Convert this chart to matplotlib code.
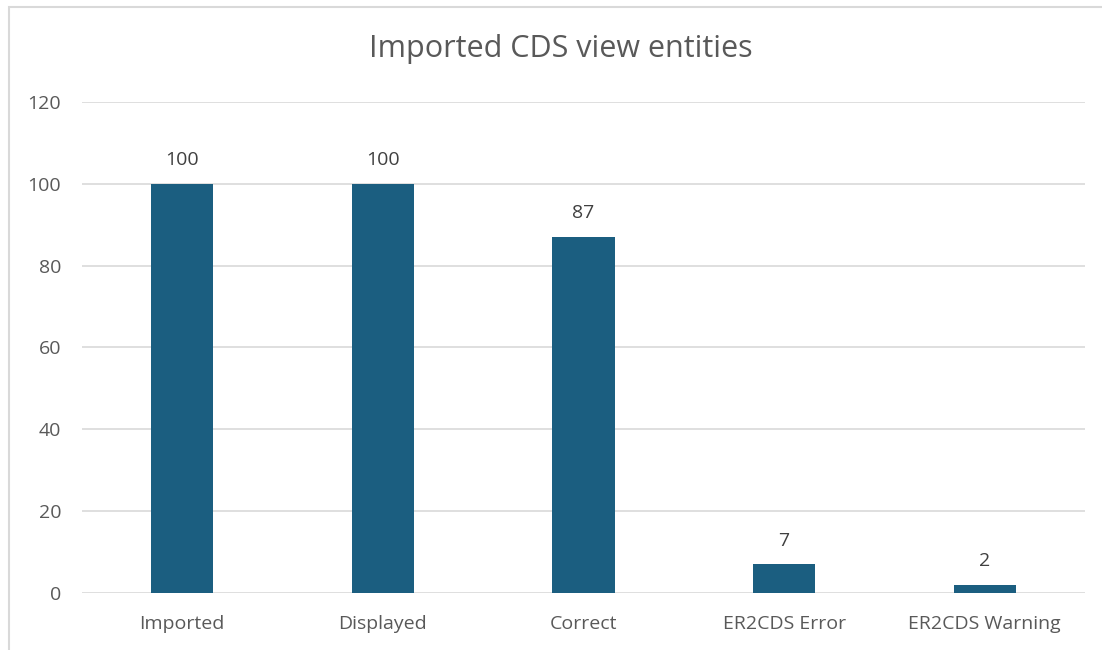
import matplotlib
matplotlib.use("Agg")
import matplotlib.pyplot as plt
from matplotlib.patches import Rectangle

categories = ["Imported", "Displayed", "Correct", "ER2CDS Error", "ER2CDS Warning"]
values = [100, 100, 87, 7, 2]
yticks = [0, 20, 40, 60, 80, 100, 120]
title = "Imported CDS view entities"

plt.rcParams['font.family'] = ['Open Sans', 'DejaVu Sans']

W, H = 1102, 650
fig = plt.figure(figsize=(W/100, H/100), dpi=100)
ax = fig.add_axes([82/W, 1-593/H, (1085-82)/W, (593-102)/H])

x = list(range(len(categories)))
bars = ax.bar(x, values, width=0.31, color='#1B5E80', zorder=3)
for xi, v in zip(x, values):
    ax.annotate(str(v), (xi, v), xytext=(0, 10.5), textcoords='offset points',
                ha='center', va='bottom', fontsize=14, color='#404040')

ax.set_xlim(-0.5, len(categories) - 0.5)
ax.set_ylim(0, 120)
ax.set_yticks(yticks)
ax.set_xticks(x)
ax.set_xticklabels(categories)
ax.tick_params(axis='both', length=0, labelsize=14, colors='#595959')
ax.tick_params(axis='y', pad=15)
ax.tick_params(axis='x', pad=16)
ax.grid(axis='y', color='#D9D9D9', linewidth=1.2, zorder=0)
for s in ax.spines.values():
    s.set_visible(False)

fig.text(561/W, 1-49/H, title, ha='center', va='center', fontsize=22, color='#595959')

fig.patches.append(Rectangle((9/W, -0.1), 1.2, 1 - 7/H + 0.1, transform=fig.transFigure,
                             fill=False, edgecolor='#D9D9D9', linewidth=1.5))

fig.savefig("out.png", dpi=100)
